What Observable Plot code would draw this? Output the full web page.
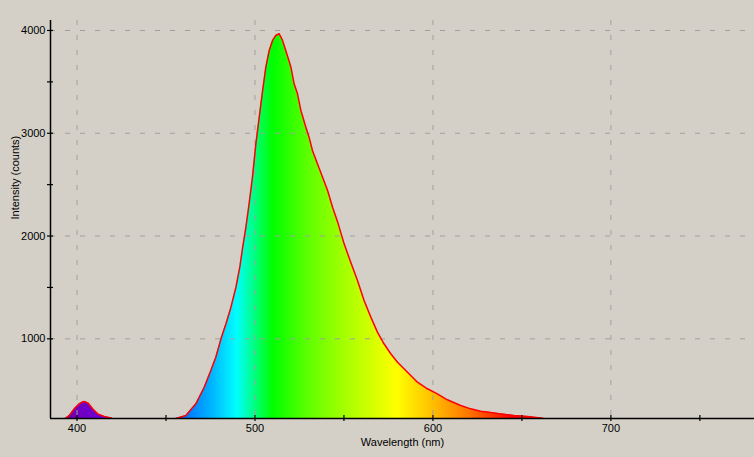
<!DOCTYPE html>
<html><head><meta charset="utf-8">
<script src="https://cdn.jsdelivr.net/npm/d3@7"></script>
<script src="https://cdn.jsdelivr.net/npm/@observablehq/plot@0.6"></script>
<style>html,body{margin:0;padding:0;background:#d4d0c8;overflow:hidden;}</style>
</head><body><div id="chart"></div>
<script>
// Spectrum readings (nm, counts)
const wavelength = [385, 392, 393.3, 395.7, 398.5, 401.3, 403, 404.1, 406.3, 408.8, 411.6, 415.3, 419.1, 422,
  452, 455.6, 461.2, 466.8, 471.5, 475.2, 478, 480.9, 483.7, 486.5, 489.3, 491.5, 493, 494.9, 496.7, 498.6,
  500.5, 502.4, 504.3, 506.1, 508, 509.9, 511.7, 513.6, 515.5, 517.3, 519.2, 520.2, 522, 523.9, 525.8, 528.6,
  530.4, 532.3, 535.1, 538, 540.8, 543.6, 546.4, 550.1, 553.8, 557.6, 561.3, 565.1, 568.8, 572.5, 576.3,
  580.1, 585.7, 591.3, 596.9, 602.5, 608.1, 615.6, 621.2, 626.8, 632.5, 638.1, 645.5, 653.1, 660.5, 663, 666, 781];
const intensity = [200, 200, 225, 254, 319, 368, 385, 390, 374, 319, 270, 244, 231, 200,
  200, 225, 254, 368, 529, 692, 821, 1000, 1146, 1308, 1502, 1700, 1880, 2086, 2313, 2573,
  2897, 3157, 3416, 3643, 3805, 3903, 3951, 3968, 3903, 3805, 3700, 3643, 3481, 3384, 3222, 3059,
  2962, 2832, 2703, 2573, 2443, 2281, 2140, 1924, 1745, 1568, 1373, 1211, 1065, 952, 855,
  773, 675, 578, 514, 465, 407, 351, 319, 296, 283, 270, 254, 244, 231, 222, 200, 200];

const xMajorTicks = [400, 500, 600, 700];
const xMinorTicks = [450, 550, 650, 750];
const yMajorTicks = [1000, 2000, 3000, 4000];
const yMinorTicks = [1500, 2500, 3500];
const xDomain = [385.1, 780.7];
const yDomain = [225, 4097];
const xLabel = "Wavelength (nm)";
const yLabel = "Intensity (counts)";

// colour of the fill along the wavelength axis
const stopWavelengths = [380, 400, 410, 420, 440, 460, 475, 490, 500, 510, 530, 550, 580, 600, 620, 645, 780];
const stopColors = ["#5a0080", "#7000bc", "#7000d0", "#6000ff", "#0030ff", "#0070ff", "#00b0ff", "#00ffff",
  "#00ff80", "#00ff00", "#5eff00", "#a3ff00", "#ffff00", "#ffbe00", "#ff7700", "#ff0000", "#ff0000"];

const data = wavelength.map((w, i) => ({w, v: intensity[i]}));

const grid = {stroke: "#a0a0a0", strokeOpacity: 1, strokeDasharray: "5,10"};

const plot = Plot.plot({
  width: 754,
  height: 457,
  marginLeft: 50,
  marginRight: 0,
  marginTop: 20,
  marginBottom: 39,
  style: {background: "#d4d0c8", color: "black", fontFamily: "'Liberation Sans', Arial, sans-serif", fontSize: "11px"},
  x: {domain: xDomain, axis: null},
  y: {domain: yDomain, axis: null},
  marks: [
    Plot.areaY(data, {x: "w", y: "v", fill: "url(#spec)", clip: true}),
    Plot.gridX(xMajorTicks, grid),
    Plot.gridY(yMajorTicks, grid),
    Plot.line(data, {x: "w", y: "v", stroke: "#ff0000", strokeWidth: 1.5, clip: true}),
    Plot.ruleX([xDomain[0]], {stroke: "black", strokeWidth: 1.5}),
    Plot.ruleY([yDomain[0]], {stroke: "black", strokeWidth: 1.5}),
    Plot.axisX({ticks: xMajorTicks.concat(xMinorTicks), tickSize: 6, dy: -3, text: null, label: null, strokeWidth: 1.2}),
    Plot.axisY({ticks: yMajorTicks.concat(yMinorTicks), tickSize: 6, dx: 3, text: null, label: null, strokeWidth: 1.2}),
    Plot.axisX({ticks: xMajorTicks, tickSize: 0, tickPadding: 6, label: null, tickFormat: d => String(d)}),
    Plot.axisY({ticks: yMajorTicks, tickSize: 0, tickPadding: 5, label: null, tickFormat: d => String(d)}),
    Plot.text([xLabel], {frameAnchor: "bottom", dy: 27, text: d => d}),
    Plot.text([yLabel], {frameAnchor: "left", dx: -35, rotate: -90, text: d => d})
  ]
});

const xs = plot.scale("x");
const x0 = xs.apply(stopWavelengths[0]);
const x1 = xs.apply(stopWavelengths[stopWavelengths.length - 1]);
const defs = d3.select(plot).insert("defs", ":first-child");
const lg = defs.append("linearGradient").attr("id", "spec")
  .attr("gradientUnits", "userSpaceOnUse")
  .attr("x1", x0).attr("x2", x1).attr("y1", 0).attr("y2", 0);
stopWavelengths.forEach((w, i) => {
  lg.append("stop")
    .attr("offset", (w - stopWavelengths[0]) / (stopWavelengths[stopWavelengths.length - 1] - stopWavelengths[0]))
    .attr("stop-color", stopColors[i]);
});

document.getElementById("chart").append(plot);
</script>
</body></html>
